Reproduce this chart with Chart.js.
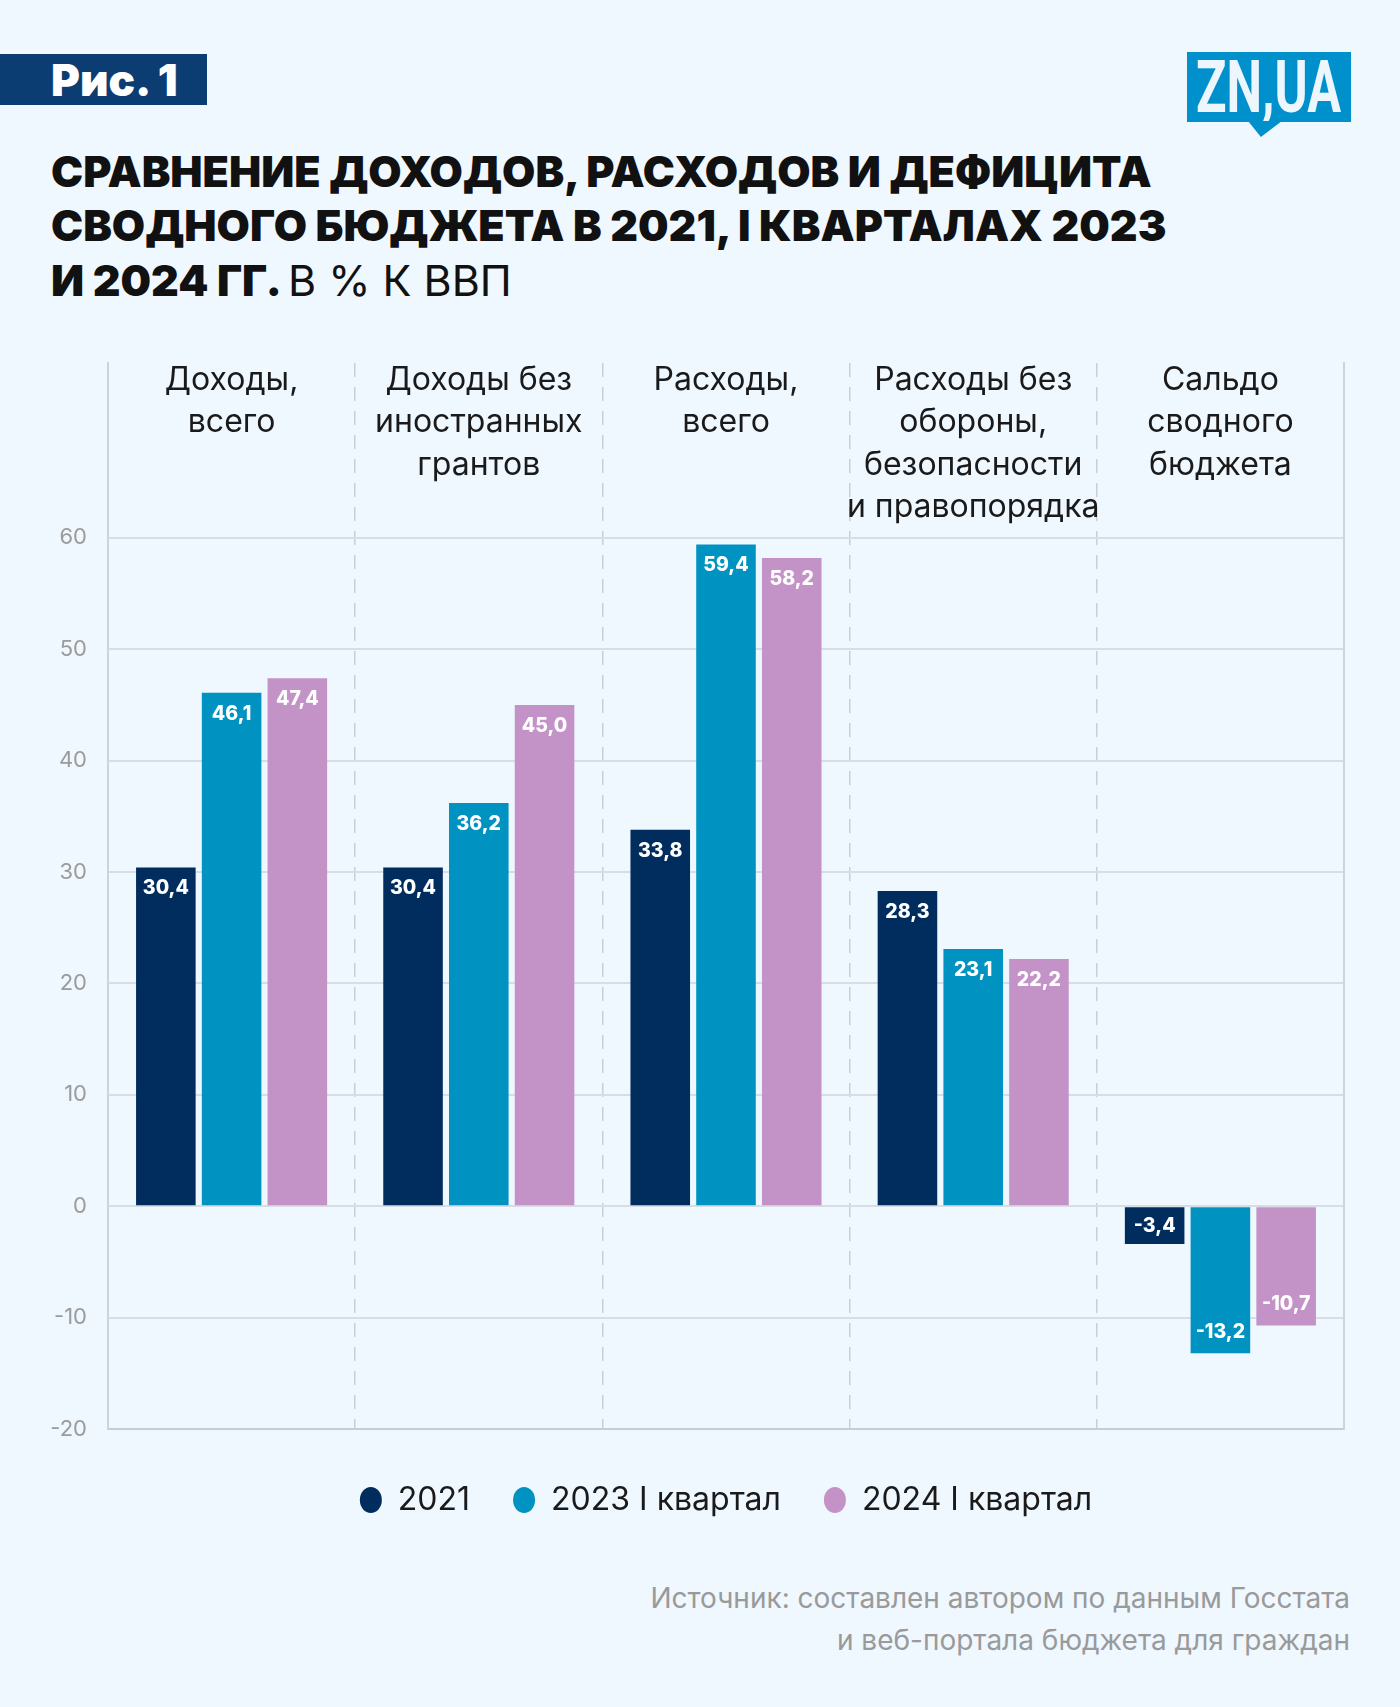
<!DOCTYPE html>
<html><head><meta charset="utf-8">
<script src="https://cdn.jsdelivr.net/npm/chart.js@4.4.1/dist/chart.umd.min.js"></script>
<style>
html,body{margin:0;padding:0;background:#EFF7FF;}
#page{position:relative;width:1400px;height:1707px;overflow:hidden;background:#EFF7FF;font-family:Inter,"Noto Sans",sans-serif;}
.badge{position:absolute;left:0;top:54px;width:207px;height:51px;background:#0B3D73;}
.badge span{position:absolute;left:51px;top:4px;color:#fff;font-weight:900;font-size:44px;line-height:44px;white-space:nowrap;}
.title{position:absolute;left:51px;font-weight:900;font-size:43px;line-height:43px;color:#111;white-space:nowrap;}
.title .reg{font-weight:400;}
.logo{position:absolute;left:1187px;top:52px;width:164px;height:70px;background:#0090CC;}
.logoTri{position:absolute;left:1248px;top:121px;width:34px;height:16px;background:#0090CC;clip-path:polygon(0 0,100% 0,38% 100%);}
.logo span{position:absolute;left:9px;top:0px;font-family:Roboto,sans-serif;font-weight:700;font-size:72px;line-height:72px;color:#EEF6FD;white-space:nowrap;transform-origin:0 0;}
#chartWrap{position:absolute;left:0;top:300px;width:1400px;height:1226px;}
.src{position:absolute;right:50px;font-size:28px;line-height:28px;color:#9a9a9a;white-space:nowrap;}
</style></head>
<body><div id="page">
<div class="badge"><span>Рис. 1</span></div>
<div class="logo"><span id="logoText">ZN,UA</span></div>
<div class="logoTri"></div>
<div class="title" style="top:150px">СРАВНЕНИЕ ДОХОДОВ, РАСХОДОВ И ДЕФИЦИТА</div>
<div class="title" style="top:204px">СВОДНОГО БЮДЖЕТА В 2021, I КВАРТАЛАХ 2023</div>
<div class="title" style="top:259px">И 2024 ГГ. <span class="reg">В % К ВВП</span></div>
<div id="chartWrap"><canvas id="c"></canvas></div>
<div class="src" style="top:1584px">Источник: составлен автором по данным Госстата</div>
<div class="src" style="top:1626px">и веб-портала бюджета для граждан</div>
</div>
<script>
const categories = [
  ["Доходы,", "всего"],
  ["Доходы без", "иностранных", "грантов"],
  ["Расходы,", "всего"],
  ["Расходы без", "обороны,", "безопасности", "и правопорядка"],
  ["Сальдо", "сводного", "бюджета"]
];
const seriesNames = ["2021", "2023 I квартал", "2024 I квартал"];
const values2021 = [30.4, 30.4, 33.8, 28.3, -3.4];
const values2023 = [46.1, 36.2, 59.4, 23.1, -13.2];
const values2024 = [47.4, 45.0, 58.2, 22.2, -10.7];
const yTicks = [-20, -10, 0, 10, 20, 30, 40, 50, 60];
const colors = ["#002D5E", "#0093C1", "#C393C8"];

// fit logo text width
(function(){
  const el = document.getElementById('logoText');
  const w = el.getBoundingClientRect().width;
  el.style.transform = 'scaleX(' + (145 / w) + ')';
})();

const catLabelPlugin = {
  id: 'catLabels',
  afterDraw(chart) {
    const {ctx, chartArea, scales: {x}} = chart;
    ctx.save();
    ctx.font = '400 32px Inter';
    ctx.fillStyle = '#1a1a1a';
    ctx.textAlign = 'center';
    ctx.textBaseline = 'middle';
    categories.forEach((lines, i) => {
      const cx = x.getPixelForValue(i);
      lines.forEach((ln, j) => ctx.fillText(ln, cx, chartArea.top + 17 + j * 42.5));
    });
    ctx.restore();
  }
};

const valueLabelPlugin = {
  id: 'valueLabels',
  afterDatasetsDraw(chart) {
    const {ctx} = chart;
    ctx.save();
    ctx.font = '800 19.5px Inter';
    ctx.fillStyle = '#ffffff';
    ctx.textAlign = 'center';
    ctx.textBaseline = 'middle';
    chart.data.datasets.forEach((ds, di) => {
      chart.getDatasetMeta(di).data.forEach((el, i) => {
        const v = ds.data[i];
        const len = Math.abs(el.base - el.y);
        const off = Math.min(21, len / 2);
        const y = v >= 0 ? el.y + off : el.y - off;
        ctx.fillText(v.toFixed(1).replace('.', ','), el.x, y);
      });
    });
    ctx.restore();
  }
};

new Chart(document.getElementById('c'), {
  type: 'bar',
  data: {
    labels: categories,
    datasets: [
      {label: seriesNames[0], data: values2021, backgroundColor: colors[0]},
      {label: seriesNames[1], data: values2023, backgroundColor: colors[1]},
      {label: seriesNames[2], data: values2024, backgroundColor: colors[2]}
    ]
  },
  options: {
    responsive: true,
    maintainAspectRatio: false,
    animation: false,
    devicePixelRatio: 1,
    layout: {padding: {top: 63, right: 56, left: 0, bottom: 0}},
    datasets: {bar: {categoryPercentage: 0.798, barPercentage: 0.906}},
    plugins: {
      legend: {
        position: 'bottom',
        fullSize: false,
        labels: {
          usePointStyle: true,
          pointStyle: 'circle',
          pointStyleWidth: 22,
          boxHeight: 18.4,
          padding: 43,
          color: '#1a1a1a',
          font: {family: 'Inter', size: 32, weight: '400'}
        }
      },
      tooltip: {enabled: false}
    },
    scales: {
      x: {
        ticks: {display: false},
        grid: {display: true, offset: true, drawTicks: false, color: '#C9CFD6', lineWidth: 1.5},
        border: {display: true, color: '#C6CCD3', width: 2, dash: [14, 10]},
        afterFit(s) { s.height = 12; }
      },
      y: {
        min: -20,
        max: 75.7,
        afterBuildTicks(s) { s.ticks = yTicks.map(v => ({value: v})); },
        ticks: {
          padding: 21,
          color: '#9b9b9b',
          font: {family: 'Inter', size: 22, weight: '400'},
          callback: v => String(v)
        },
        grid: {drawTicks: false, color: '#D8DDE3', lineWidth: 2},
        border: {display: true, color: '#CDD3DA', width: 2},
        afterFit(s) { s.width = 108; }
      },
      y2: {
        position: 'right',
        min: -20,
        max: 75.7,
        ticks: {display: false},
        grid: {drawOnChartArea: false, drawTicks: false},
        border: {display: true, color: '#CDD3DA', width: 2},
        afterFit(s) { s.width = 0; }
      }
    }
  },
  plugins: [catLabelPlugin, valueLabelPlugin]
});
</script>
</body></html>
